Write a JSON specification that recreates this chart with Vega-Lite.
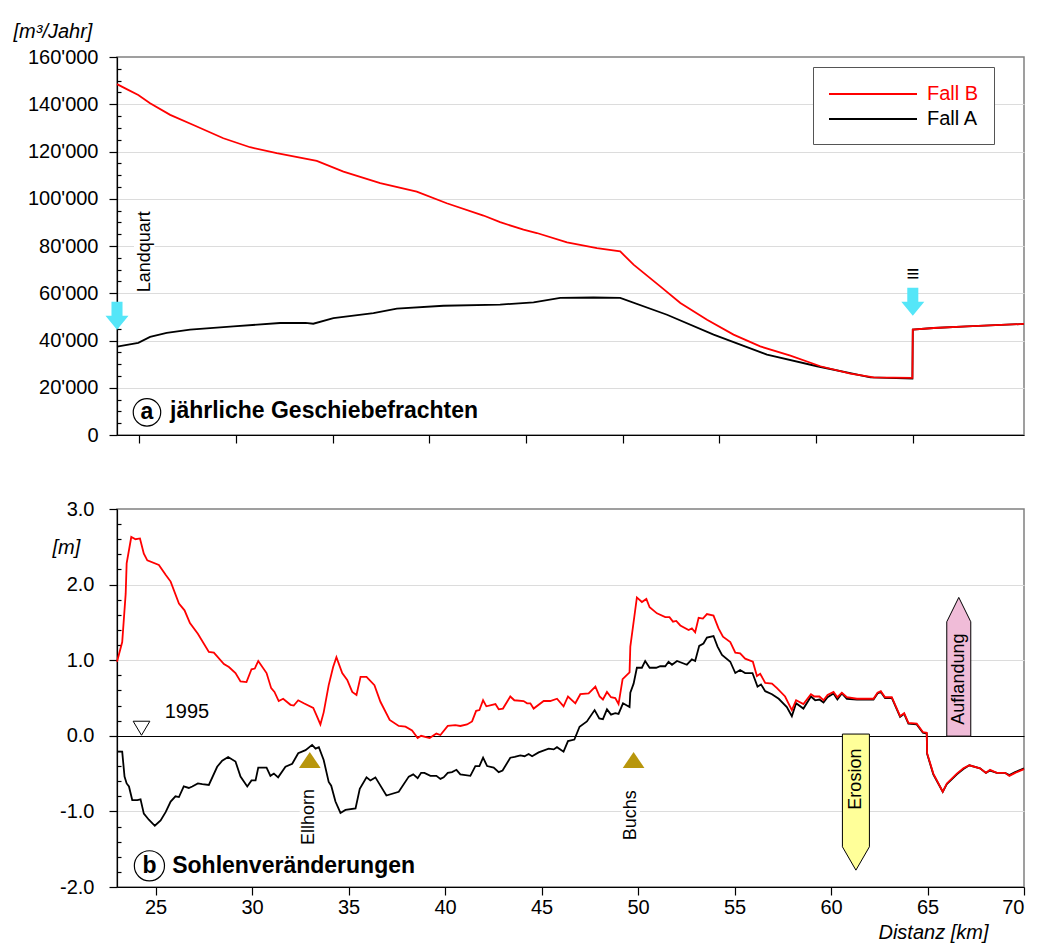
{
  "$schema": "https://vega.github.io/schema/vega-lite/v6.json",
  "background": "white",
  "padding": {"left": 12, "top": 20, "right": 5, "bottom": 0},
  "spacing": 74,
  "bounds": "flush",
  "resolve": {"scale": {"x": "independent", "y": "independent", "color": "independent"}, "legend": {"color": "independent"}},
  "config": {
    "font": "Liberation Sans",
    "view": {"stroke": "#808080", "strokeWidth": 1.5},
    "axis": {"domainColor": "#000", "domainWidth": 1.2, "tickColor": "#000", "tickWidth": 1.2, "labelFontSize": 20, "labelColor": "#000", "labelFont": "Liberation Sans", "titleColor": "#000", "titleFont": "Liberation Sans", "gridColor": "#dcdcdc", "gridWidth": 1.2},
    "text": {"font": "Liberation Sans", "color": "#000"}
  },
  "datasets": {
    "fracht": [
      {"km": 23.85, "fall": "Fall B", "q": 148500}, {"km": 24.3, "fall": "Fall B", "q": 146600}, {"km": 24.95, "fall": "Fall B", "q": 143900}, {"km": 25.56, "fall": "Fall B", "q": 140400}, {"km": 26.6, "fall": "Fall B", "q": 135500}, {"km": 27.8, "fall": "Fall B", "q": 131200}, {"km": 29.35, "fall": "Fall B", "q": 125600}, {"km": 30.73, "fall": "Fall B", "q": 121800}, {"km": 32.11, "fall": "Fall B", "q": 119300}, {"km": 34.18, "fall": "Fall B", "q": 116000}, {"km": 35.56, "fall": "Fall B", "q": 111500}, {"km": 37.46, "fall": "Fall B", "q": 106600}, {"km": 39.35, "fall": "Fall B", "q": 103000}, {"km": 40.9, "fall": "Fall B", "q": 98100}, {"km": 42.8, "fall": "Fall B", "q": 92900}, {"km": 43.66, "fall": "Fall B", "q": 90100}, {"km": 44.87, "fall": "Fall B", "q": 86900}, {"km": 45.56, "fall": "Fall B", "q": 85500}, {"km": 47.12, "fall": "Fall B", "q": 81500}, {"km": 48.67, "fall": "Fall B", "q": 79100}, {"km": 49.87, "fall": "Fall B", "q": 77700}, {"km": 50.56, "fall": "Fall B", "q": 72100}, {"km": 51.94, "fall": "Fall B", "q": 62900}, {"km": 52.98, "fall": "Fall B", "q": 55900}, {"km": 54.36, "fall": "Fall B", "q": 48800}, {"km": 55.73, "fall": "Fall B", "q": 42500}, {"km": 57.11, "fall": "Fall B", "q": 37500}, {"km": 58.67, "fall": "Fall B", "q": 33600}, {"km": 60.22, "fall": "Fall B", "q": 29100}, {"km": 61.77, "fall": "Fall B", "q": 26000}, {"km": 62.98, "fall": "Fall B", "q": 24400}, {"km": 64.98, "fall": "Fall B", "q": 24200}, {"km": 65.0, "fall": "Fall B", "q": 44600}, {"km": 66.08, "fall": "Fall B", "q": 45300}, {"km": 67.81, "fall": "Fall B", "q": 46000}, {"km": 70.75, "fall": "Fall B", "q": 47000},
      {"km": 23.85, "fall": "Fall A", "q": 37400}, {"km": 24.95, "fall": "Fall A", "q": 39000}, {"km": 25.56, "fall": "Fall A", "q": 41500}, {"km": 26.42, "fall": "Fall A", "q": 43200}, {"km": 27.63, "fall": "Fall A", "q": 44600}, {"km": 29.87, "fall": "Fall A", "q": 46000}, {"km": 32.28, "fall": "Fall A", "q": 47400}, {"km": 33.6, "fall": "Fall A", "q": 47500}, {"km": 34.0, "fall": "Fall A", "q": 47100}, {"km": 35.04, "fall": "Fall A", "q": 49500}, {"km": 37.11, "fall": "Fall A", "q": 51600}, {"km": 38.32, "fall": "Fall A", "q": 53500}, {"km": 40.73, "fall": "Fall A", "q": 54700}, {"km": 43.66, "fall": "Fall A", "q": 55200}, {"km": 45.39, "fall": "Fall A", "q": 56100}, {"km": 46.77, "fall": "Fall A", "q": 58000}, {"km": 48.49, "fall": "Fall A", "q": 58200}, {"km": 49.87, "fall": "Fall A", "q": 58000}, {"km": 52.29, "fall": "Fall A", "q": 50900}, {"km": 54.7, "fall": "Fall A", "q": 42500}, {"km": 57.46, "fall": "Fall A", "q": 34000}, {"km": 60.05, "fall": "Fall A", "q": 29100}, {"km": 62.81, "fall": "Fall A", "q": 24400}, {"km": 64.98, "fall": "Fall A", "q": 23900}, {"km": 65.0, "fall": "Fall A", "q": 44600}, {"km": 66.08, "fall": "Fall A", "q": 45300}, {"km": 67.81, "fall": "Fall A", "q": 46000}, {"km": 70.75, "fall": "Fall A", "q": 47000}
    ],
    "sohle": [
      {"km": 23.0, "fall": "Fall B", "dz": 0.98}, {"km": 23.27, "fall": "Fall B", "dz": 1.24}, {"km": 23.45, "fall": "Fall B", "dz": 1.88}, {"km": 23.5, "fall": "Fall B", "dz": 2.28}, {"km": 23.74, "fall": "Fall B", "dz": 2.63}, {"km": 23.96, "fall": "Fall B", "dz": 2.6}, {"km": 24.19, "fall": "Fall B", "dz": 2.61}, {"km": 24.39, "fall": "Fall B", "dz": 2.41}, {"km": 24.57, "fall": "Fall B", "dz": 2.32}, {"km": 25.17, "fall": "Fall B", "dz": 2.26}, {"km": 25.52, "fall": "Fall B", "dz": 2.13}, {"km": 25.78, "fall": "Fall B", "dz": 2.04}, {"km": 26.21, "fall": "Fall B", "dz": 1.75}, {"km": 26.5, "fall": "Fall B", "dz": 1.66}, {"km": 26.78, "fall": "Fall B", "dz": 1.49}, {"km": 27.19, "fall": "Fall B", "dz": 1.35}, {"km": 27.76, "fall": "Fall B", "dz": 1.11}, {"km": 28.02, "fall": "Fall B", "dz": 1.1}, {"km": 28.54, "fall": "Fall B", "dz": 0.95}, {"km": 28.8, "fall": "Fall B", "dz": 0.91}, {"km": 29.14, "fall": "Fall B", "dz": 0.83}, {"km": 29.4, "fall": "Fall B", "dz": 0.72}, {"km": 29.71, "fall": "Fall B", "dz": 0.71}, {"km": 29.97, "fall": "Fall B", "dz": 0.88}, {"km": 30.14, "fall": "Fall B", "dz": 0.89}, {"km": 30.32, "fall": "Fall B", "dz": 0.99}, {"km": 30.75, "fall": "Fall B", "dz": 0.83}, {"km": 30.99, "fall": "Fall B", "dz": 0.63}, {"km": 31.16, "fall": "Fall B", "dz": 0.58}, {"km": 31.38, "fall": "Fall B", "dz": 0.46}, {"km": 31.61, "fall": "Fall B", "dz": 0.49}, {"km": 31.99, "fall": "Fall B", "dz": 0.41}, {"km": 32.16, "fall": "Fall B", "dz": 0.4}, {"km": 32.39, "fall": "Fall B", "dz": 0.47}, {"km": 32.68, "fall": "Fall B", "dz": 0.43}, {"km": 33.17, "fall": "Fall B", "dz": 0.37}, {"km": 33.34, "fall": "Fall B", "dz": 0.27}, {"km": 33.54, "fall": "Fall B", "dz": 0.15}, {"km": 33.71, "fall": "Fall B", "dz": 0.31}, {"km": 33.97, "fall": "Fall B", "dz": 0.67}, {"km": 34.2, "fall": "Fall B", "dz": 0.91}, {"km": 34.37, "fall": "Fall B", "dz": 1.04}, {"km": 34.67, "fall": "Fall B", "dz": 0.83}, {"km": 34.93, "fall": "Fall B", "dz": 0.74}, {"km": 35.19, "fall": "Fall B", "dz": 0.58}, {"km": 35.41, "fall": "Fall B", "dz": 0.54}, {"km": 35.62, "fall": "Fall B", "dz": 0.78}, {"km": 35.93, "fall": "Fall B", "dz": 0.78}, {"km": 36.34, "fall": "Fall B", "dz": 0.67}, {"km": 36.65, "fall": "Fall B", "dz": 0.45}, {"km": 37.13, "fall": "Fall B", "dz": 0.21}, {"km": 37.6, "fall": "Fall B", "dz": 0.13}, {"km": 37.95, "fall": "Fall B", "dz": 0.12}, {"km": 38.29, "fall": "Fall B", "dz": 0.07}, {"km": 38.58, "fall": "Fall B", "dz": -0.03}, {"km": 38.76, "fall": "Fall B", "dz": 0.0}, {"km": 39.2, "fall": "Fall B", "dz": -0.03}, {"km": 39.55, "fall": "Fall B", "dz": 0.03}, {"km": 39.76, "fall": "Fall B", "dz": 0.01}, {"km": 40.14, "fall": "Fall B", "dz": 0.13}, {"km": 40.53, "fall": "Fall B", "dz": 0.14}, {"km": 40.79, "fall": "Fall B", "dz": 0.13}, {"km": 41.14, "fall": "Fall B", "dz": 0.15}, {"km": 41.4, "fall": "Fall B", "dz": 0.19}, {"km": 41.61, "fall": "Fall B", "dz": 0.33}, {"km": 41.78, "fall": "Fall B", "dz": 0.34}, {"km": 41.97, "fall": "Fall B", "dz": 0.47}, {"km": 42.14, "fall": "Fall B", "dz": 0.39}, {"km": 42.61, "fall": "Fall B", "dz": 0.42}, {"km": 42.78, "fall": "Fall B", "dz": 0.35}, {"km": 43.0, "fall": "Fall B", "dz": 0.36}, {"km": 43.38, "fall": "Fall B", "dz": 0.52}, {"km": 43.59, "fall": "Fall B", "dz": 0.47}, {"km": 44.07, "fall": "Fall B", "dz": 0.46}, {"km": 44.25, "fall": "Fall B", "dz": 0.43}, {"km": 44.42, "fall": "Fall B", "dz": 0.43}, {"km": 44.59, "fall": "Fall B", "dz": 0.36}, {"km": 45.11, "fall": "Fall B", "dz": 0.46}, {"km": 45.45, "fall": "Fall B", "dz": 0.46}, {"km": 45.8, "fall": "Fall B", "dz": 0.49}, {"km": 46.14, "fall": "Fall B", "dz": 0.39}, {"km": 46.37, "fall": "Fall B", "dz": 0.52}, {"km": 46.75, "fall": "Fall B", "dz": 0.43}, {"km": 47.01, "fall": "Fall B", "dz": 0.55}, {"km": 47.44, "fall": "Fall B", "dz": 0.56}, {"km": 47.79, "fall": "Fall B", "dz": 0.65}, {"km": 48.01, "fall": "Fall B", "dz": 0.52}, {"km": 48.18, "fall": "Fall B", "dz": 0.48}, {"km": 48.39, "fall": "Fall B", "dz": 0.58}, {"km": 48.6, "fall": "Fall B", "dz": 0.51}, {"km": 48.82, "fall": "Fall B", "dz": 0.5}, {"km": 48.99, "fall": "Fall B", "dz": 0.42}, {"km": 49.2, "fall": "Fall B", "dz": 0.75}, {"km": 49.56, "fall": "Fall B", "dz": 0.84}, {"km": 49.6, "fall": "Fall B", "dz": 1.18}, {"km": 49.94, "fall": "Fall B", "dz": 1.83}, {"km": 50.2, "fall": "Fall B", "dz": 1.77}, {"km": 50.43, "fall": "Fall B", "dz": 1.81}, {"km": 50.6, "fall": "Fall B", "dz": 1.7}, {"km": 50.98, "fall": "Fall B", "dz": 1.62}, {"km": 51.41, "fall": "Fall B", "dz": 1.57}, {"km": 51.63, "fall": "Fall B", "dz": 1.57}, {"km": 51.81, "fall": "Fall B", "dz": 1.51}, {"km": 51.98, "fall": "Fall B", "dz": 1.52}, {"km": 52.19, "fall": "Fall B", "dz": 1.46}, {"km": 52.62, "fall": "Fall B", "dz": 1.4}, {"km": 52.79, "fall": "Fall B", "dz": 1.42}, {"km": 52.96, "fall": "Fall B", "dz": 1.37}, {"km": 53.14, "fall": "Fall B", "dz": 1.56}, {"km": 53.36, "fall": "Fall B", "dz": 1.55}, {"km": 53.57, "fall": "Fall B", "dz": 1.61}, {"km": 53.91, "fall": "Fall B", "dz": 1.59}, {"km": 54.17, "fall": "Fall B", "dz": 1.42}, {"km": 54.4, "fall": "Fall B", "dz": 1.31}, {"km": 54.78, "fall": "Fall B", "dz": 1.24}, {"km": 55.04, "fall": "Fall B", "dz": 1.1}, {"km": 55.29, "fall": "Fall B", "dz": 1.09}, {"km": 55.55, "fall": "Fall B", "dz": 1.02}, {"km": 55.95, "fall": "Fall B", "dz": 0.98}, {"km": 56.16, "fall": "Fall B", "dz": 0.79}, {"km": 56.33, "fall": "Fall B", "dz": 0.82}, {"km": 56.59, "fall": "Fall B", "dz": 0.7}, {"km": 56.94, "fall": "Fall B", "dz": 0.69}, {"km": 57.2, "fall": "Fall B", "dz": 0.63}, {"km": 57.62, "fall": "Fall B", "dz": 0.52}, {"km": 57.97, "fall": "Fall B", "dz": 0.34}, {"km": 58.19, "fall": "Fall B", "dz": 0.47}, {"km": 58.57, "fall": "Fall B", "dz": 0.42}, {"km": 58.96, "fall": "Fall B", "dz": 0.55}, {"km": 59.14, "fall": "Fall B", "dz": 0.52}, {"km": 59.4, "fall": "Fall B", "dz": 0.52}, {"km": 59.61, "fall": "Fall B", "dz": 0.47}, {"km": 59.82, "fall": "Fall B", "dz": 0.54}, {"km": 60.13, "fall": "Fall B", "dz": 0.58}, {"km": 60.33, "fall": "Fall B", "dz": 0.51}, {"km": 60.56, "fall": "Fall B", "dz": 0.57}, {"km": 60.82, "fall": "Fall B", "dz": 0.51}, {"km": 61.34, "fall": "Fall B", "dz": 0.49}, {"km": 62.2, "fall": "Fall B", "dz": 0.49}, {"km": 62.41, "fall": "Fall B", "dz": 0.57}, {"km": 62.58, "fall": "Fall B", "dz": 0.59}, {"km": 62.8, "fall": "Fall B", "dz": 0.51}, {"km": 63.15, "fall": "Fall B", "dz": 0.51}, {"km": 63.58, "fall": "Fall B", "dz": 0.26}, {"km": 63.79, "fall": "Fall B", "dz": 0.3}, {"km": 64.01, "fall": "Fall B", "dz": 0.17}, {"km": 64.44, "fall": "Fall B", "dz": 0.16}, {"km": 64.76, "fall": "Fall B", "dz": 0.05}, {"km": 64.96, "fall": "Fall B", "dz": 0.04}, {"km": 64.98, "fall": "Fall B", "dz": -0.23}, {"km": 65.3, "fall": "Fall B", "dz": -0.5}, {"km": 65.79, "fall": "Fall B", "dz": -0.74}, {"km": 66.0, "fall": "Fall B", "dz": -0.63}, {"km": 66.52, "fall": "Fall B", "dz": -0.5}, {"km": 66.86, "fall": "Fall B", "dz": -0.43}, {"km": 67.17, "fall": "Fall B", "dz": -0.39}, {"km": 67.72, "fall": "Fall B", "dz": -0.43}, {"km": 68.03, "fall": "Fall B", "dz": -0.49}, {"km": 68.24, "fall": "Fall B", "dz": -0.45}, {"km": 68.59, "fall": "Fall B", "dz": -0.49}, {"km": 69.02, "fall": "Fall B", "dz": -0.49}, {"km": 69.24, "fall": "Fall B", "dz": -0.53}, {"km": 69.54, "fall": "Fall B", "dz": -0.49}, {"km": 70.0, "fall": "Fall B", "dz": -0.44},
      {"km": 23.0, "fall": "Fall A", "dz": -0.21}, {"km": 23.27, "fall": "Fall A", "dz": -0.21}, {"km": 23.39, "fall": "Fall A", "dz": -0.54}, {"km": 23.5, "fall": "Fall A", "dz": -0.63}, {"km": 23.62, "fall": "Fall A", "dz": -0.67}, {"km": 23.79, "fall": "Fall A", "dz": -0.85}, {"km": 24.05, "fall": "Fall A", "dz": -0.85}, {"km": 24.22, "fall": "Fall A", "dz": -0.84}, {"km": 24.39, "fall": "Fall A", "dz": -1.03}, {"km": 24.65, "fall": "Fall A", "dz": -1.11}, {"km": 24.96, "fall": "Fall A", "dz": -1.19}, {"km": 25.26, "fall": "Fall A", "dz": -1.12}, {"km": 25.52, "fall": "Fall A", "dz": -1.01}, {"km": 25.78, "fall": "Fall A", "dz": -0.87}, {"km": 26.03, "fall": "Fall A", "dz": -0.8}, {"km": 26.21, "fall": "Fall A", "dz": -0.81}, {"km": 26.46, "fall": "Fall A", "dz": -0.67}, {"km": 26.72, "fall": "Fall A", "dz": -0.69}, {"km": 26.9, "fall": "Fall A", "dz": -0.67}, {"km": 27.19, "fall": "Fall A", "dz": -0.63}, {"km": 27.42, "fall": "Fall A", "dz": -0.64}, {"km": 27.76, "fall": "Fall A", "dz": -0.65}, {"km": 28.19, "fall": "Fall A", "dz": -0.41}, {"km": 28.45, "fall": "Fall A", "dz": -0.33}, {"km": 28.76, "fall": "Fall A", "dz": -0.28}, {"km": 29.14, "fall": "Fall A", "dz": -0.34}, {"km": 29.4, "fall": "Fall A", "dz": -0.54}, {"km": 29.75, "fall": "Fall A", "dz": -0.67}, {"km": 29.97, "fall": "Fall A", "dz": -0.59}, {"km": 30.18, "fall": "Fall A", "dz": -0.59}, {"km": 30.32, "fall": "Fall A", "dz": -0.42}, {"km": 30.75, "fall": "Fall A", "dz": -0.42}, {"km": 30.95, "fall": "Fall A", "dz": -0.53}, {"km": 31.13, "fall": "Fall A", "dz": -0.5}, {"km": 31.35, "fall": "Fall A", "dz": -0.55}, {"km": 31.73, "fall": "Fall A", "dz": -0.41}, {"km": 32.08, "fall": "Fall A", "dz": -0.37}, {"km": 32.39, "fall": "Fall A", "dz": -0.23}, {"km": 32.77, "fall": "Fall A", "dz": -0.19}, {"km": 33.11, "fall": "Fall A", "dz": -0.12}, {"km": 33.29, "fall": "Fall A", "dz": -0.17}, {"km": 33.46, "fall": "Fall A", "dz": -0.15}, {"km": 33.71, "fall": "Fall A", "dz": -0.32}, {"km": 33.97, "fall": "Fall A", "dz": -0.61}, {"km": 34.1, "fall": "Fall A", "dz": -0.66}, {"km": 34.32, "fall": "Fall A", "dz": -0.87}, {"km": 34.58, "fall": "Fall A", "dz": -1.02}, {"km": 34.84, "fall": "Fall A", "dz": -0.98}, {"km": 35.36, "fall": "Fall A", "dz": -0.96}, {"km": 35.58, "fall": "Fall A", "dz": -0.7}, {"km": 35.93, "fall": "Fall A", "dz": -0.55}, {"km": 36.13, "fall": "Fall A", "dz": -0.59}, {"km": 36.39, "fall": "Fall A", "dz": -0.55}, {"km": 36.96, "fall": "Fall A", "dz": -0.79}, {"km": 37.6, "fall": "Fall A", "dz": -0.74}, {"km": 38.12, "fall": "Fall A", "dz": -0.54}, {"km": 38.35, "fall": "Fall A", "dz": -0.51}, {"km": 38.58, "fall": "Fall A", "dz": -0.56}, {"km": 38.76, "fall": "Fall A", "dz": -0.49}, {"km": 38.93, "fall": "Fall A", "dz": -0.49}, {"km": 39.24, "fall": "Fall A", "dz": -0.53}, {"km": 39.55, "fall": "Fall A", "dz": -0.53}, {"km": 39.76, "fall": "Fall A", "dz": -0.57}, {"km": 39.93, "fall": "Fall A", "dz": -0.55}, {"km": 40.14, "fall": "Fall A", "dz": -0.49}, {"km": 40.36, "fall": "Fall A", "dz": -0.48}, {"km": 40.59, "fall": "Fall A", "dz": -0.45}, {"km": 40.79, "fall": "Fall A", "dz": -0.51}, {"km": 41.31, "fall": "Fall A", "dz": -0.53}, {"km": 41.57, "fall": "Fall A", "dz": -0.4}, {"km": 41.78, "fall": "Fall A", "dz": -0.4}, {"km": 41.97, "fall": "Fall A", "dz": -0.29}, {"km": 42.18, "fall": "Fall A", "dz": -0.4}, {"km": 42.52, "fall": "Fall A", "dz": -0.42}, {"km": 42.78, "fall": "Fall A", "dz": -0.48}, {"km": 42.98, "fall": "Fall A", "dz": -0.46}, {"km": 43.38, "fall": "Fall A", "dz": -0.29}, {"km": 43.61, "fall": "Fall A", "dz": -0.28}, {"km": 43.9, "fall": "Fall A", "dz": -0.26}, {"km": 44.12, "fall": "Fall A", "dz": -0.27}, {"km": 44.33, "fall": "Fall A", "dz": -0.24}, {"km": 44.51, "fall": "Fall A", "dz": -0.27}, {"km": 44.85, "fall": "Fall A", "dz": -0.22}, {"km": 45.37, "fall": "Fall A", "dz": -0.17}, {"km": 45.63, "fall": "Fall A", "dz": -0.18}, {"km": 45.8, "fall": "Fall A", "dz": -0.15}, {"km": 46.14, "fall": "Fall A", "dz": -0.21}, {"km": 46.37, "fall": "Fall A", "dz": -0.07}, {"km": 46.7, "fall": "Fall A", "dz": -0.05}, {"km": 46.97, "fall": "Fall A", "dz": 0.12}, {"km": 47.35, "fall": "Fall A", "dz": 0.19}, {"km": 47.75, "fall": "Fall A", "dz": 0.34}, {"km": 47.99, "fall": "Fall A", "dz": 0.23}, {"km": 48.18, "fall": "Fall A", "dz": 0.22}, {"km": 48.39, "fall": "Fall A", "dz": 0.35}, {"km": 48.6, "fall": "Fall A", "dz": 0.28}, {"km": 48.82, "fall": "Fall A", "dz": 0.3}, {"km": 48.99, "fall": "Fall A", "dz": 0.29}, {"km": 49.22, "fall": "Fall A", "dz": 0.43}, {"km": 49.56, "fall": "Fall A", "dz": 0.38}, {"km": 49.6, "fall": "Fall A", "dz": 0.57}, {"km": 49.77, "fall": "Fall A", "dz": 0.69}, {"km": 49.94, "fall": "Fall A", "dz": 0.9}, {"km": 50.2, "fall": "Fall A", "dz": 0.9}, {"km": 50.37, "fall": "Fall A", "dz": 0.99}, {"km": 50.6, "fall": "Fall A", "dz": 0.9}, {"km": 50.94, "fall": "Fall A", "dz": 0.9}, {"km": 51.15, "fall": "Fall A", "dz": 0.92}, {"km": 51.41, "fall": "Fall A", "dz": 0.92}, {"km": 51.58, "fall": "Fall A", "dz": 0.98}, {"km": 51.76, "fall": "Fall A", "dz": 0.94}, {"km": 52.02, "fall": "Fall A", "dz": 0.99}, {"km": 52.53, "fall": "Fall A", "dz": 0.94}, {"km": 52.79, "fall": "Fall A", "dz": 1.01}, {"km": 52.96, "fall": "Fall A", "dz": 0.99}, {"km": 53.17, "fall": "Fall A", "dz": 1.19}, {"km": 53.39, "fall": "Fall A", "dz": 1.22}, {"km": 53.57, "fall": "Fall A", "dz": 1.3}, {"km": 53.91, "fall": "Fall A", "dz": 1.32}, {"km": 54.12, "fall": "Fall A", "dz": 1.18}, {"km": 54.35, "fall": "Fall A", "dz": 1.07}, {"km": 54.78, "fall": "Fall A", "dz": 0.98}, {"km": 55.04, "fall": "Fall A", "dz": 0.83}, {"km": 55.29, "fall": "Fall A", "dz": 0.87}, {"km": 55.55, "fall": "Fall A", "dz": 0.83}, {"km": 55.93, "fall": "Fall A", "dz": 0.83}, {"km": 56.19, "fall": "Fall A", "dz": 0.65}, {"km": 56.37, "fall": "Fall A", "dz": 0.68}, {"km": 56.59, "fall": "Fall A", "dz": 0.59}, {"km": 56.94, "fall": "Fall A", "dz": 0.55}, {"km": 57.29, "fall": "Fall A", "dz": 0.49}, {"km": 57.71, "fall": "Fall A", "dz": 0.38}, {"km": 57.97, "fall": "Fall A", "dz": 0.26}, {"km": 58.19, "fall": "Fall A", "dz": 0.43}, {"km": 58.57, "fall": "Fall A", "dz": 0.36}, {"km": 58.96, "fall": "Fall A", "dz": 0.52}, {"km": 59.18, "fall": "Fall A", "dz": 0.47}, {"km": 59.4, "fall": "Fall A", "dz": 0.48}, {"km": 59.61, "fall": "Fall A", "dz": 0.44}, {"km": 59.82, "fall": "Fall A", "dz": 0.51}, {"km": 60.13, "fall": "Fall A", "dz": 0.56}, {"km": 60.33, "fall": "Fall A", "dz": 0.48}, {"km": 60.56, "fall": "Fall A", "dz": 0.56}, {"km": 60.82, "fall": "Fall A", "dz": 0.49}, {"km": 61.34, "fall": "Fall A", "dz": 0.48}, {"km": 62.2, "fall": "Fall A", "dz": 0.48}, {"km": 62.41, "fall": "Fall A", "dz": 0.56}, {"km": 62.58, "fall": "Fall A", "dz": 0.58}, {"km": 62.8, "fall": "Fall A", "dz": 0.5}, {"km": 63.15, "fall": "Fall A", "dz": 0.5}, {"km": 63.58, "fall": "Fall A", "dz": 0.25}, {"km": 63.79, "fall": "Fall A", "dz": 0.29}, {"km": 64.01, "fall": "Fall A", "dz": 0.16}, {"km": 64.44, "fall": "Fall A", "dz": 0.15}, {"km": 64.76, "fall": "Fall A", "dz": 0.04}, {"km": 64.96, "fall": "Fall A", "dz": 0.03}, {"km": 64.98, "fall": "Fall A", "dz": -0.24}, {"km": 65.3, "fall": "Fall A", "dz": -0.51}, {"km": 65.79, "fall": "Fall A", "dz": -0.74}, {"km": 66.0, "fall": "Fall A", "dz": -0.64}, {"km": 66.52, "fall": "Fall A", "dz": -0.51}, {"km": 66.86, "fall": "Fall A", "dz": -0.44}, {"km": 67.17, "fall": "Fall A", "dz": -0.39}, {"km": 67.72, "fall": "Fall A", "dz": -0.43}, {"km": 68.03, "fall": "Fall A", "dz": -0.49}, {"km": 68.24, "fall": "Fall A", "dz": -0.46}, {"km": 68.59, "fall": "Fall A", "dz": -0.49}, {"km": 69.02, "fall": "Fall A", "dz": -0.49}, {"km": 69.24, "fall": "Fall A", "dz": -0.52}, {"km": 69.54, "fall": "Fall A", "dz": -0.48}, {"km": 70.0, "fall": "Fall A", "dz": -0.43}
    ]
  },
  "vconcat": [
    {
      "width": 907,
      "height": 378,
      "encoding": {
        "x": {"field": "km", "type": "quantitative", "scale": {"domain": [23.85, 70.75], "nice": false, "zero": false},
          "axis": {"values": [25, 30, 35, 40, 45, 50, 55, 60, 65], "labels": false, "tickSize": 8, "title": null, "grid": false}},
        "y": {"field": "q", "type": "quantitative", "scale": {"domain": [0, 160000], "nice": false, "zero": false},
          "axis": {
            "values": [0, 5000, 10000, 15000, 20000, 25000, 30000, 35000, 40000, 45000, 50000, 55000, 60000, 65000, 70000, 75000, 80000, 85000, 90000, 95000, 100000, 105000, 110000, 115000, 120000, 125000, 130000, 135000, 140000, 145000, 150000, 155000, 160000],
            "labelExpr": "datum.value % 20000 === 0 ? replace(format(datum.value, ','), ',', \"'\") : ''",
            "tickSize": {"condition": {"test": "datum.value % 20000 === 0", "value": 8}, "value": -4},
            "grid": true,
            "gridOpacity": {"condition": {"test": "datum.value % 20000 === 0 && datum.value > 0 && datum.value < 160000", "value": 1}, "value": 0},
            "labelPadding": 11,
            "title": "[m³/Jahr]", "titleAngle": 0, "titleAlign": "left", "titleBaseline": "alphabetic",
            "titleX": -104, "titleY": -20, "titleFontStyle": "italic", "titleFontWeight": "normal", "titleFontSize": 20
          }}
      },
      "layer": [
        {
          "data": {"values": [{"km": 24.73, "km2": 25.8, "q": 62000, "q2": 95000}]},
          "mark": {"type": "rect", "color": "white"},
          "encoding": {"x2": {"field": "km2"}, "y2": {"field": "q2"}}
        },
        {
          "data": {"name": "fracht"},
          "transform": [{"filter": "datum.fall === 'Fall A'"}],
          "mark": {"type": "line", "strokeWidth": 1.8},
          "encoding": {"color": {"field": "fall", "type": "nominal", "scale": {"domain": ["Fall B", "Fall A"], "range": ["#ff0000", "#000000"]},
            "legend": {"orient": "none", "legendX": 696, "legendY": 10, "title": null,
              "symbolType": "M-1,0L7,0", "symbolSize": 484, "symbolStrokeWidth": 2,
              "labelFontSize": 20, "labelFont": "Liberation Sans", "labelOffset": 75, "padding": 15, "rowPadding": 3, "labelLimit": 200,
              "strokeColor": "#555", "fillColor": "white",
              "encode": {"labels": {"update": {"fill": {"signal": "datum.value === 'Fall B' ? '#ff0000' : '#000000'"}}}}}}}
        },
        {
          "data": {"name": "fracht"},
          "transform": [{"filter": "datum.fall === 'Fall B'"}],
          "mark": {"type": "line", "strokeWidth": 1.8},
          "encoding": {"color": {"field": "fall", "type": "nominal"}}
        },
        {
          "data": {"values": [{"km": 23.85, "q": 50500}, {"km": 65.0, "q": 56400}]},
          "mark": {"type": "point", "shape": "M-0.48,-1.22L0.48,-1.22L0.48,0L1,0L0,1.22L-1,0L-0.48,0Z", "size": 529, "filled": true, "fill": "#55e6f8", "opacity": 1, "strokeWidth": 0}
        },
        {
          "data": {"values": [{"km": 25.3, "q": 77600, "label": "Landquart"}]},
          "mark": {"type": "text", "angle": 270, "fontSize": 18, "align": "center", "baseline": "middle"},
          "encoding": {"text": {"field": "label"}}
        },
        {
          "data": {"values": [{"km": 65.0, "q": 68300, "label": "≡"}]},
          "mark": {"type": "text", "fontSize": 22, "align": "center", "baseline": "middle"},
          "encoding": {"text": {"field": "label"}}
        },
        {
          "data": {"values": [{"km": 25.4, "q": 9600}]},
          "mark": {"type": "point", "shape": "circle", "size": 755, "filled": false, "stroke": "#000", "strokeWidth": 1.2, "opacity": 1}
        },
        {
          "data": {"values": [{"km": 25.4, "q": 9600, "label": "a"}]},
          "mark": {"type": "text", "fontSize": 23, "fontWeight": "bold", "align": "center", "baseline": "middle"},
          "encoding": {"text": {"field": "label"}}
        },
        {
          "data": {"values": [{"km": 26.59, "q": 7200, "label": "jährliche Geschiebefrachten"}]},
          "mark": {"type": "text", "fontSize": 23, "fontWeight": "bold", "align": "left", "baseline": "alphabetic"},
          "encoding": {"text": {"field": "label"}}
        }
      ]
    },
    {
      "width": 907,
      "height": 378,
      "encoding": {
        "x": {"field": "km", "type": "quantitative", "scale": {"domain": [23, 70], "nice": false, "zero": false},
          "axis": {"values": [25, 30, 35, 40, 45, 50, 55, 60, 65, 70], "format": "d", "tickSize": 8, "labelPadding": 2, "grid": false,
            "title": "Distanz [km]", "titleFontStyle": "italic", "titleFontWeight": "normal", "titleFontSize": 20,
            "titleAlign": "right", "titleAnchor": "end", "titleX": 871, "titleY": 51, "titleBaseline": "alphabetic"}},
        "y": {"field": "dz", "type": "quantitative", "scale": {"domain": [-2, 3], "nice": false, "zero": false},
          "axis": {
            "values": [-2, -1.8, -1.6, -1.4, -1.2, -1, -0.8, -0.6, -0.4, -0.2, 0, 0.2, 0.4, 0.6, 0.8, 1, 1.2, 1.4, 1.6, 1.8, 2, 2.2, 2.4, 2.6, 2.8, 3],
            "labelExpr": "abs(datum.value - round(datum.value)) < 0.01 ? (datum.value < -0.01 ? '-' : '') + format(abs(datum.value), '.1f') : ''",
            "tickSize": {"condition": {"test": "abs(datum.value - round(datum.value)) < 0.01", "value": 8}, "value": -4},
            "grid": true,
            "gridOpacity": {"condition": {"test": "abs(datum.value - round(datum.value)) < 0.01 && datum.value > -1.5 && datum.value < 2.5", "value": 1}, "value": 0},
            "gridColor": {"condition": {"test": "abs(datum.value) < 0.01", "value": "#000000"}, "value": "#dcdcdc"},
            "labelPadding": 15,
            "title": "[m]", "titleAngle": 0, "titleAlign": "left", "titleBaseline": "alphabetic",
            "titleX": -65, "titleY": 44, "titleFontStyle": "italic", "titleFontWeight": "normal", "titleFontSize": 20
          }}
      },
      "layer": [
        {
          "data": {"values": [{"km": 32.47, "km2": 33.42, "dz": -0.72, "dz2": -1.43}, {"km": 49.13, "km2": 50.1, "dz": -0.72, "dz2": -1.4}]},
          "mark": {"type": "rect", "color": "white"},
          "encoding": {"x2": {"field": "km2"}, "y2": {"field": "dz2"}}
        },
        {
          "data": {"name": "sohle"},
          "transform": [{"filter": "datum.fall === 'Fall A'"}],
          "mark": {"type": "line", "strokeWidth": 1.8},
          "encoding": {"color": {"field": "fall", "type": "nominal", "scale": {"domain": ["Fall B", "Fall A"], "range": ["#ff0000", "#000000"]}, "legend": null}}
        },
        {
          "data": {"name": "sohle"},
          "transform": [{"filter": "datum.fall === 'Fall B'"}],
          "mark": {"type": "line", "strokeWidth": 1.8},
          "encoding": {"color": {"field": "fall", "type": "nominal", "legend": null}}
        },
        {
          "data": {"values": [{"km": 24.27, "dz": 0.1}]},
          "mark": {"type": "point", "shape": "M-1,-0.84L1,-0.84L0,0.84Z", "size": 279, "filled": true, "fill": "white", "stroke": "#000", "strokeWidth": 1, "opacity": 1}
        },
        {
          "data": {"values": [{"km": 25.47, "dz": 0.31, "label": "1995"}]},
          "mark": {"type": "text", "fontSize": 20, "align": "left", "baseline": "middle"},
          "encoding": {"text": {"field": "label"}}
        },
        {
          "data": {"values": [{"km": 32.99, "dz": -0.32}, {"km": 49.77, "dz": -0.32}]},
          "mark": {"type": "point", "shape": "M0,-0.74L1,0.74L-1,0.74Z", "size": 471, "filled": true, "fill": "#b8960c", "strokeWidth": 0, "opacity": 1}
        },
        {
          "data": {"values": [{"km": 32.94, "dz": -1.075, "label": "Ellhorn"}, {"km": 49.63, "dz": -1.05, "label": "Buchs"}]},
          "mark": {"type": "text", "angle": 270, "fontSize": 18, "align": "center", "baseline": "middle"},
          "encoding": {"text": {"field": "label"}}
        },
        {
          "data": {"values": [{"km": 61.29, "dz": -0.877}]},
          "mark": {"type": "point", "shape": "M-1,-5.04L1,-5.04L1,3.31L0,5.04L-1,3.31Z", "size": 729, "filled": true, "fill": "#ffff99", "stroke": "#000", "strokeWidth": 1, "opacity": 1}
        },
        {
          "data": {"values": [{"km": 66.62, "dz": 0.913}]},
          "mark": {"type": "point", "shape": "M-1,5.78L1,5.78L1,-3.75L0,-5.78L-1,-3.75Z", "size": 576, "filled": true, "fill": "#f0bcd8", "stroke": "#000", "strokeWidth": 1, "opacity": 1}
        },
        {
          "data": {"values": [{"km": 61.29, "dz": -0.573, "label": "Erosion"}, {"km": 66.62, "dz": 0.75, "label": "Auflandung"}]},
          "mark": {"type": "text", "angle": 270, "fontSize": 18, "align": "center", "baseline": "middle"},
          "encoding": {"text": {"field": "label"}}
        },
        {
          "data": {"values": [{"km": 24.68, "dz": -1.72}]},
          "mark": {"type": "point", "shape": "circle", "size": 908, "filled": false, "stroke": "#000", "strokeWidth": 1.2, "opacity": 1}
        },
        {
          "data": {"values": [{"km": 24.68, "dz": -1.72, "label": "b"}]},
          "mark": {"type": "text", "fontSize": 23, "fontWeight": "bold", "align": "center", "baseline": "middle"},
          "encoding": {"text": {"field": "label"}}
        },
        {
          "data": {"values": [{"km": 25.86, "dz": -1.816, "label": "Sohlenveränderungen"}]},
          "mark": {"type": "text", "fontSize": 23, "fontWeight": "bold", "align": "left", "baseline": "alphabetic"},
          "encoding": {"text": {"field": "label"}}
        }
      ]
    }
  ]
}
